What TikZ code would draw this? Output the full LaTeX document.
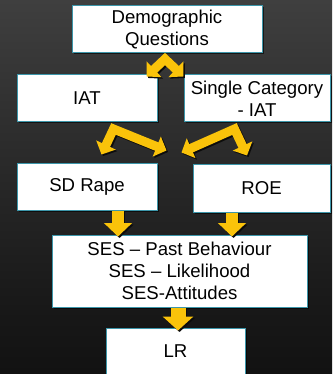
\documentclass[tikz,border=0pt]{standalone}
\usepackage{fontspec}
\setmainfont{Liberation Sans}
\usetikzlibrary{arrows.meta,calc,shadows}
\definecolor{bgtop}{RGB}{88,88,88}
\definecolor{bgmidA}{RGB}{48,48,48}
\definecolor{bgmidB}{RGB}{25,25,25}
\definecolor{bgbot}{RGB}{0,0,0}
\definecolor{boxline}{RGB}{60,150,170}
\definecolor{arrowyellow}{RGB}{250,195,10}
\definecolor{shadowcol}{RGB}{12,12,12}
\pgfdeclareverticalshading{bgshade}{100bp}{color(0bp)=(bgbot); color(35bp)=(bgmidB); color(60bp)=(bgmidA); color(100bp)=(bgtop)}
\begin{document}
\begin{tikzpicture}[x=1pt,y=-1pt,
  box/.style={draw=boxline, line width=1pt, fill=white, inner sep=0pt, align=center,
    font=\fontsize{18.6}{22}\selectfont, text=black,
    drop shadow={shadow xshift=1.5pt, shadow yshift=-1.5pt, fill=black, opacity=0.6}},
  bentarrow/.style={draw=arrowyellow, line width=9pt, line join=miter,
    {Triangle[width=21pt,length=10.5pt]}-{Triangle[width=21pt,length=10.5pt]}},
  bentshadow/.style={bentarrow, draw=shadowcol, transform canvas={shift={(1.5pt,-1.5pt)}}},
  downarrow/.style={draw=arrowyellow, line width=11.5pt, -{Triangle[width=27.5pt,length=13.5pt]}},
  downshadow/.style={downarrow, draw=shadowcol, transform canvas={shift={(1.5pt,-1.5pt)}}},
  bigdownarrow/.style={downarrow, line width=15pt, -{Triangle[width=30pt,length=14pt]}},
  bigdownshadow/.style={bigdownarrow, draw=shadowcol, transform canvas={shift={(1.5pt,-1.5pt)}}}
]
\shade[shading=bgshade] (0,0) rectangle (332,374);
\useasboundingbox (0,0) rectangle (332,374);

\node[box, minimum width=190pt, minimum height=47pt] (demo) at (167,29.5) {Demographic\\Questions};
\node[box, minimum width=140pt, minimum height=47pt] (iat) at (87,98.5) {IAT};
\node[box, minimum width=146pt, minimum height=47pt] (scat) at (257,98.5) {Single Category\\- IAT};
\node[box, minimum width=140pt, minimum height=47pt] (sdr) at (87,186.5) {SD Rape};
\node[box, minimum width=137pt, minimum height=48pt] (roe) at (261.5,188) {ROE};
\node[box, minimum width=255pt, minimum height=72pt] (ses) at (179.5,271) {SES – Past Behaviour\\SES – Likelihood\\SES-Attitudes};
\node[box, minimum width=139pt, minimum height=47pt] (lr) at (175.5,351.5) {LR};

% top split arrow
\coordinate (p0) at ($(demo.south)+(-2,5.5)$);
\coordinate (t0l) at ($(iat.north east)+(-11,2)$);
\coordinate (t0r) at ($(scat.north west)+(0,2)$);
\draw[bentshadow] (t0l) -- (p0) -- (t0r);
\draw[bentarrow] (t0l) -- (p0) -- (t0r);

% middle left split arrow
\coordinate (p1) at ($(iat.south)+(26.5,6.5)$);
\coordinate (t1l) at ($(sdr.north)+(14.5,-8)$);
\coordinate (t1r) at ($(sdr.north east)+(9,-12)$);
\draw[bentshadow] (t1l) -- (p1) -- (t1r);
\draw[bentarrow] (t1l) -- (p1) -- (t1r);

% middle right split arrow
\coordinate (p2) at ($(scat.south)+(-22.5,6.5)$);
\coordinate (t2r) at ($(roe.north)+(-14.5,-8)$);
\coordinate (t2l) at ($(roe.north west)+(-11,-11)$);
\draw[bentshadow] (t2l) -- (p2) -- (t2r);
\draw[bentarrow] (t2l) -- (p2) -- (t2r);

% down arrows
\coordinate (d1) at ($(sdr.south)+(31,0)$);
\coordinate (d2) at ($(roe.south)+(-29.5,0)$);
\coordinate (d3) at ($(ses.south)+(-1.5,0)$);
\draw[downshadow] (d1) -- ($(d1 |- ses.north)+(0,2)$);
\draw[downarrow] (d1) -- ($(d1 |- ses.north)+(0,2)$);
\draw[downshadow] (d2) -- ($(d2 |- ses.north)+(0,2)$);
\draw[downarrow] (d2) -- ($(d2 |- ses.north)+(0,2)$);
\draw[bigdownshadow] (d3) -- ($(d3 |- lr.north)+(0,3)$);
\draw[bigdownarrow] (d3) -- ($(d3 |- lr.north)+(0,3)$);
\end{tikzpicture}
\end{document}
